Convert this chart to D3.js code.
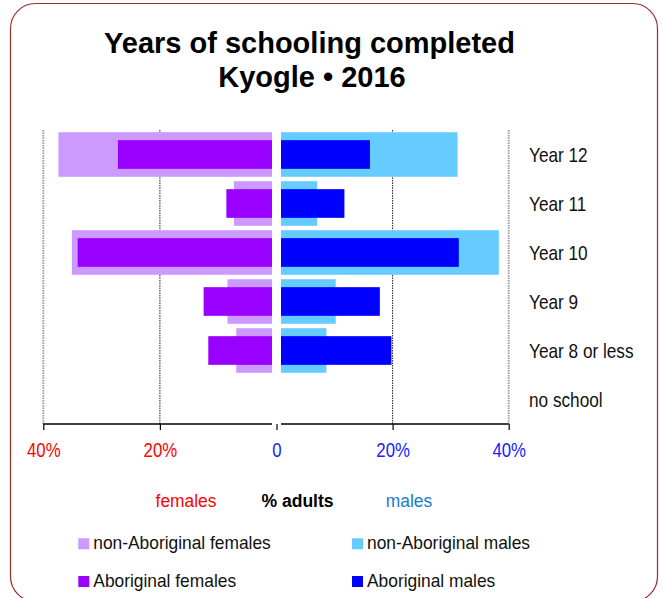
<!DOCTYPE html>
<html>
<head>
<meta charset="utf-8">
<script src="https://cdn.jsdelivr.net/npm/d3@7"></script>
<style>
  html, body { margin: 0; padding: 0; background: #fff; }
  svg { display: block; }
  text { font-family: "Liberation Sans", Arial, Helvetica, sans-serif; }
</style>
</head>
<body>
<svg id="chart" width="663" height="598"></svg>
<script>
// Schooling levels, top to bottom
const categories = ["Year 12", "Year 11", "Year 10", "Year 9", "Year 8 or less", "no school"];

// % of adults, by highest year of school completed
const femalesNonAboriginal = [37.4, 7.3, 35.1, 8.4, 6.9, 0.5];
const femalesAboriginal    = [27.2, 8.6, 34.1, 12.5, 11.7, 0.4];
const malesNonAboriginal   = [31.2, 7.0, 38.3, 10.2, 8.6, 0.5];
const malesAboriginal      = [16.1, 11.7, 31.4, 17.8, 19.8, 0.4];

const femaleTicks = [40, 20];
const maleTicks = [0, 20, 40];

const legendItems = [
  { label: "non-Aboriginal females", color: "#cc99ff" },
  { label: "Aboriginal females", color: "#9900ff" },
  { label: "non-Aboriginal males", color: "#66ccff" },
  { label: "Aboriginal males", color: "#0000ff" }
];

const colors = {
  femalesNonAboriginal: "#cc99ff",
  femalesAboriginal: "#9900ff",
  malesNonAboriginal: "#66ccff",
  malesAboriginal: "#0000ff"
};

const svg = d3.select("#chart");

// rounded frame
svg.append("rect")
  .attr("x", 10.5).attr("y", 3.5)
  .attr("width", 647).attr("height", 598)
  .attr("rx", 25).attr("ry", 25)
  .attr("fill", "#fff")
  .attr("stroke", "#9a2b2b")
  .attr("stroke-width", 1.2);

// helper for horizontally condensed text
function label(parent, str, x, y, o = {}) {
  return parent.append("text")
    .attr("transform", `translate(${x},${y}) scale(${o.sx || 1},1)`)
    .attr("text-anchor", o.anchor || "start")
    .attr("font-size", o.size || 18)
    .attr("font-weight", o.weight || "normal")
    .attr("fill", o.fill || "#111")
    .text(str);
}

// title
label(svg, "Years of schooling completed", 309.5, 52.5, { anchor: "middle", size: 29, weight: "bold", fill: "#000" });
label(svg, "Kyogle \u2022 2016", 312, 86.5, { anchor: "middle", size: 29, weight: "bold", fill: "#000" });

// scales
const center = 276.5, gap = 4.5;
const xF = d3.scaleLinear().domain([0, 40]).range([center, 43.3]);
const xM = d3.scaleLinear().domain([0, 40]).range([center, 508.7]);
const y = d3.scaleBand().domain(categories).range([130, 424]).paddingInner(0.09).paddingOuter(0.045);
const innerH = y.step() * 0.585;
const plotTop = 130, plotBottom = 424;

// gridlines
const grid = svg.append("g");
[[xF, 40], [xM, 40]].forEach(([s, v]) => {
  grid.append("line")
    .attr("x1", s(v)).attr("x2", s(v)).attr("y1", plotTop).attr("y2", plotBottom)
    .attr("stroke", "#a0a0a0").attr("stroke-width", 2).attr("stroke-dasharray", "1.5,1");
});
[[xF, 20], [xM, 20]].forEach(([s, v]) => {
  grid.append("line")
    .attr("x1", s(v)).attr("x2", s(v)).attr("y1", plotTop).attr("y2", plotBottom)
    .attr("stroke", "#222").attr("stroke-width", 1).attr("stroke-dasharray", "1.5,1");
});

// bars
function femaleBars(values, color, h) {
  svg.append("g").selectAll("rect").data(values).join("rect")
    .attr("x", d => Math.min(xF(d), center - gap))
    .attr("width", d => Math.max(0, (center - gap) - xF(d)))
    .attr("y", (d, i) => y(categories[i]) + (y.bandwidth() - h) / 2)
    .attr("height", h)
    .attr("fill", color);
}
function maleBars(values, color, h) {
  svg.append("g").selectAll("rect").data(values).join("rect")
    .attr("x", center + gap)
    .attr("width", d => Math.max(0, xM(d) - (center + gap)))
    .attr("y", (d, i) => y(categories[i]) + (y.bandwidth() - h) / 2)
    .attr("height", h)
    .attr("fill", color);
}
femaleBars(femalesNonAboriginal, colors.femalesNonAboriginal, y.bandwidth());
maleBars(malesNonAboriginal, colors.malesNonAboriginal, y.bandwidth());
femaleBars(femalesAboriginal, colors.femalesAboriginal, innerH);
maleBars(malesAboriginal, colors.malesAboriginal, innerH);

// axes
function styleAxis(g, color) {
  g.select(".domain").remove();
  g.selectAll(".tick line").attr("stroke", "#000").attr("stroke-width", 1.2);
  g.selectAll(".tick text")
    .attr("y", 33.3).attr("dy", null)
    .attr("transform", "scale(0.8,1)")
    .attr("font-size", 21)
    .attr("font-family", "'Liberation Sans', Arial, sans-serif")
    .attr("fill", color);
}
const axF = svg.append("g").attr("transform", `translate(0,${plotBottom})`)
  .call(d3.axisBottom(xF).tickValues(femaleTicks).tickSize(6).tickFormat(d => d + "%"));
styleAxis(axF, "#ff0000");
const axM = svg.append("g").attr("transform", `translate(0,${plotBottom})`)
  .call(d3.axisBottom(xM).tickValues(maleTicks).tickSize(6).tickFormat(d => d === 0 ? "0" : d + "%"));
styleAxis(axM, "#2020ff");

svg.append("line")
  .attr("x1", xF(40)).attr("x2", center - gap).attr("y1", plotBottom).attr("y2", plotBottom)
  .attr("stroke", "#000").attr("stroke-width", 1.5);
svg.append("line")
  .attr("x1", center + gap).attr("x2", xM(40)).attr("y1", plotBottom).attr("y2", plotBottom)
  .attr("stroke", "#000").attr("stroke-width", 1.5);

// category labels
categories.forEach(c => {
  label(svg, c, 529, y(c) + y.bandwidth() / 2 + 7, { size: 21, sx: 0.82, fill: "#111" });
});

// axis caption row
label(svg, "females", 186, 506.7, { anchor: "middle", size: 18.5, sx: 0.94, fill: "#ff0000" });
label(svg, "% adults", 297.5, 506.7, { anchor: "middle", size: 18.5, sx: 0.95, weight: "bold", fill: "#000" });
label(svg, "males", 409, 506.7, { anchor: "middle", size: 18.5, sx: 0.94, fill: "#1a7ccc" });

// legend
const legendPos = [
  { x: 78.3, y: 549.3 }, { x: 78.3, y: 587 },
  { x: 352, y: 549.3 }, { x: 352, y: 587 }
];
legendItems.forEach((item, i) => {
  const p = legendPos[i];
  svg.append("rect")
    .attr("x", p.x).attr("y", p.y - 11).attr("width", 11).attr("height", 11)
    .attr("fill", item.color);
  label(svg, item.label, p.x + 15, p.y, { size: 18, sx: 0.965, fill: "#111" });
});
</script>
</body>
</html>
